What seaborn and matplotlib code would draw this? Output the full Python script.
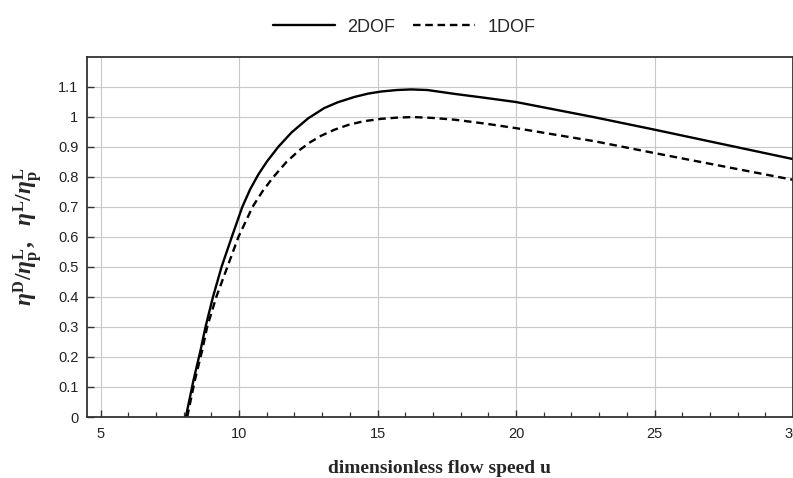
import numpy as np
import pandas as pd
import matplotlib
matplotlib.use("Agg")
import matplotlib.pyplot as plt
from matplotlib.ticker import MultipleLocator, FuncFormatter
import seaborn as sns

# ── Data ─────────────────────────────────────────────────────────────────────
u_2dof = [8.08, 8.35, 8.61, 8.79, 9.06, 9.37, 9.74, 10.12, 10.40, 10.70, 11.00,
          11.42, 11.90, 12.50, 13.08, 13.56, 14.17, 14.66, 15.13, 15.70, 16.22,
          16.80, 17.79, 18.80, 20.0, 22.74, 25.0, 30.0]
eta_2dof = [0.0, 0.12, 0.222, 0.30, 0.40, 0.50, 0.60, 0.70, 0.758, 0.808, 0.850,
            0.90, 0.948, 0.995, 1.029, 1.048, 1.066, 1.077, 1.084, 1.089, 1.091,
            1.089, 1.076, 1.064, 1.049, 1.00, 0.957, 0.859]

u_1dof = [8.13, 8.40, 8.67, 8.85, 9.18, 9.58, 9.98, 10.49, 10.85, 11.23, 11.70,
          12.17, 12.55, 12.97, 13.45, 13.95, 14.50, 15.13, 15.70, 16.28, 17.00,
          17.80, 18.90, 20.0, 22.86, 25.0, 30.0]
eta_1dof = [0.0, 0.12, 0.222, 0.30, 0.40, 0.50, 0.60, 0.70, 0.752, 0.798, 0.848,
            0.888, 0.914, 0.937, 0.957, 0.973, 0.985, 0.993, 0.997, 0.999, 0.996,
            0.990, 0.977, 0.962, 0.918, 0.879, 0.790]

x_ticks = [5, 10, 15, 20, 25, 30]
y_ticks = [0, 0.1, 0.2, 0.3, 0.4, 0.5, 0.6, 0.7, 0.8, 0.9, 1.0, 1.1]

df = pd.concat([
    pd.DataFrame({"u": u_2dof, "eta": eta_2dof, "model": "2DOF"}),
    pd.DataFrame({"u": u_1dof, "eta": eta_1dof, "model": "1DOF"}),
], ignore_index=True)

# ── Style ────────────────────────────────────────────────────────────────────
sns.set_style("ticks")
plt.rcParams["font.family"] = ["Liberation Sans", "DejaVu Sans"]
plt.rcParams["mathtext.fontset"] = "custom"
plt.rcParams["mathtext.rm"] = "Liberation Serif:bold"
plt.rcParams["mathtext.bf"] = "Liberation Serif:bold"
plt.rcParams["mathtext.it"] = "Liberation Serif:italic:bold"

fig = plt.figure(figsize=(7.93, 4.78), dpi=100)
ax = fig.add_axes([0.1093, 0.1276, 0.8907, 0.7538])

sns.lineplot(data=df, x="u", y="eta", hue="model", style="model",
             palette={"2DOF": "black", "1DOF": "black"},
             dashes={"2DOF": "", "1DOF": (3.2, 2.0)},
             linewidth=1.7, sort=False, estimator=None, ax=ax)
for line in ax.get_lines():
    line.set_solid_joinstyle("round")
    line.set_dash_joinstyle("round")

ax.set_xlim(4.5, 30)
ax.set_ylim(0, 1.2)
ax.set_xticks(x_ticks)
ax.set_yticks(y_ticks)
ax.xaxis.set_minor_locator(MultipleLocator(1))
ax.yaxis.set_major_formatter(FuncFormatter(lambda v, _: f"{v:g}"))
ax.grid(True, which="major", color="#c8c8c8", linewidth=0.8)
ax.set_axisbelow(True)

ax.tick_params(axis="both", which="major", direction="in", length=5,
               width=1.0, color="#333333", labelsize=10.5, labelcolor="#222222")
ax.tick_params(axis="x", which="minor", direction="in", length=3.5,
               width=0.9, color="#333333")
ax.tick_params(axis="x", which="major", pad=7)
ax.tick_params(axis="y", which="major", pad=6)
for side in ["left", "bottom", "top", "right"]:
    ax.spines[side].set_color("#333333")
    ax.spines[side].set_linewidth(1.3)

ax.set_xlabel("dimensionless flow speed u", family="Liberation Serif",
              fontweight="bold", fontsize=14, labelpad=14)
ax.set_ylabel(r"$\eta^{\mathbf{D}}/\eta^{\mathbf{L}}_{\mathbf{p}},\ \ "
              r"\eta^{\mathbf{L}}/\eta^{\mathbf{L}}_{\mathbf{p}}$",
              fontsize=17, labelpad=9)

handles, labels = ax.get_legend_handles_labels()
ax.get_legend().remove()
fig.legend(handles, labels, loc="center", bbox_to_anchor=(0.51, 0.943),
           ncol=2, frameon=False, fontsize=13, handlelength=3.4,
           handletextpad=0.7, columnspacing=1.0)

fig.savefig("out.png", dpi=100)
